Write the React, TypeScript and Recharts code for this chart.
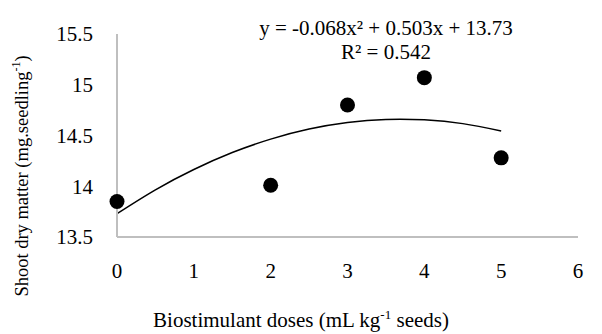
import { ComposedChart, Line, Scatter, XAxis, YAxis } from 'recharts';

// Observed shoot dry matter per biostimulant dose
const doses = [0, 2, 3, 4, 5];
const shootDryMatter = [13.85, 14.01, 14.8, 15.07, 14.28];

// Fitted quadratic, sampled along the dose range
const trendDoses = [0, 0.5, 1, 1.5, 2, 2.5, 3, 3.5, 4, 4.5, 5];
const trendValues = [13.73, 13.965, 14.165, 14.332, 14.464, 14.563, 14.627, 14.658, 14.654, 14.617, 14.545];

const xTicks = [0, 1, 2, 3, 4, 5, 6];
const yTicks = [13.5, 14, 14.5, 15, 15.5];

const equationText = 'y = -0.068x² + 0.503x + 13.73';
const r2Text = 'R² = 0.542';

const FONT = 'Liberation Serif';
const AXIS_GRAY = '#bfbfbf';

const points = doses.map((x, i) => ({ x, y: shootDryMatter[i] }));
const trend = trendDoses.map((x, i) => ({ x, y: trendValues[i] }));

const Dot = (props: any) => <circle cx={props.cx} cy={props.cy} r={7.5} fill="#000" />;

export default function App() {
  return (
    <div style={{ position: 'absolute', left: 0, top: 0, width: 602, height: 334, background: '#fff', fontFamily: FONT }}>
      <ComposedChart width={602} height={334} margin={{ top: 34, right: 24, bottom: 0, left: 0 }}>
        <XAxis
          type="number"
          dataKey="x"
          domain={[0, 6]}
          ticks={xTicks}
          tickLine={false}
          tickSize={0}
          tickMargin={26}
          stroke={AXIS_GRAY}
          strokeWidth={2}
          tick={{ fill: '#000', fontSize: 21, fontFamily: FONT }}
          height={97}
        />
        <YAxis
          type="number"
          dataKey="y"
          domain={[13.5, 15.5]}
          ticks={yTicks}
          tickLine={false}
          tickSize={0}
          tickMargin={24}
          stroke={AXIS_GRAY}
          strokeWidth={2}
          width={117}
          tick={{ fill: '#000', fontSize: 21, fontFamily: FONT }}
        />
        <Line data={trend} dataKey="y" type="natural" stroke="#000" strokeWidth={1.5} dot={false} isAnimationActive={false} />
        <Scatter data={points} dataKey="y" shape={<Dot />} isAnimationActive={false} />
      </ComposedChart>

      {/* regression equation */}
      <div style={{ position: 'absolute', left: 386, top: 16, transform: 'translateX(-50%)', fontSize: 21, whiteSpace: 'nowrap', lineHeight: '24px', textAlign: 'center' }}>
        <div>{equationText}</div>
        <div>{r2Text}</div>
      </div>

      {/* axis titles */}
      <div style={{ position: 'absolute', left: 301, top: 308, transform: 'translateX(-50%)', fontSize: 21, lineHeight: '24px', whiteSpace: 'nowrap' }}>
        Biostimulant doses (mL kg<sup style={{ fontSize: 13, lineHeight: 0 }}>-1</sup> seeds)
      </div>
      <div style={{ position: 'absolute', left: 22, top: 176, transform: 'translate(-50%, -50%) rotate(-90deg)', fontSize: 18.5, whiteSpace: 'nowrap' }}>
        Shoot dry matter (mg.seedling<sup style={{ fontSize: 12, lineHeight: 0 }}>-1</sup>)
      </div>
    </div>
  );
}
